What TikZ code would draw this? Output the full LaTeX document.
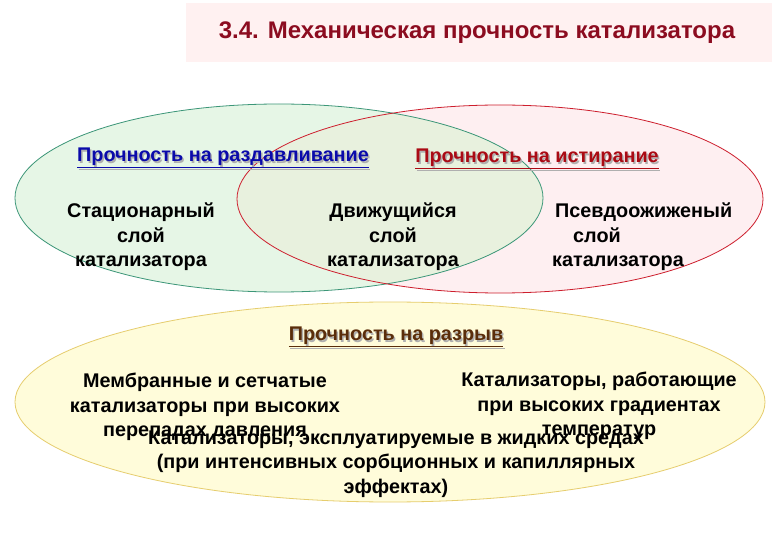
\documentclass[tikz,border=0pt]{standalone}
\usepackage{fontspec}
\setmainfont{Liberation Sans}
\definecolor{titlered}{RGB}{140,12,32}
\definecolor{titlebg}{RGB}{255,241,241}
\definecolor{greenfill}{RGB}{230,246,230}
\definecolor{pinkfill}{RGB}{254,239,241}
\definecolor{overlapfill}{RGB}{232,241,222}
\definecolor{greenline}{RGB}{60,150,120}
\definecolor{redline}{RGB}{205,30,45}
\definecolor{yellowfill}{RGB}{255,252,218}
\definecolor{yellowline}{RGB}{230,205,110}
\definecolor{headblue}{RGB}{10,10,170}
\definecolor{headred}{RGB}{170,10,20}
\definecolor{headbrown}{RGB}{90,45,10}
\definecolor{shadowgray}{RGB}{175,175,175}
\begin{document}
\begin{tikzpicture}[x=1pt,y=-1pt,
  txt/.style={font=\bfseries\fontsize{19.8}{24.5}\selectfont, align=center, inner sep=0pt, text=black},
  head/.style={font=\bfseries\fontsize{19.8}{24}\selectfont, inner sep=0pt},
  shadowtxt/.style={head, text=shadowgray}]
\useasboundingbox (0,0) rectangle (780,540);
\fill[white] (0,0) rectangle (780,540);
% title
\fill[titlebg] (186,3) rectangle (772,62);
\node[font=\bfseries\fontsize{24}{28}\selectfont, text=titlered, inner sep=0pt] (title) at (477,33) {3.4. Механическая прочность катализатора};
% ellipses
\fill[pinkfill] (500,199) ellipse [x radius=263, y radius=94];
\fill[greenfill] (279,198) ellipse [x radius=264, y radius=94];
\begin{scope}
  \clip (279,198) ellipse [x radius=264, y radius=94];
  \fill[overlapfill] (500,199) ellipse [x radius=263, y radius=94];
\end{scope}
\draw[greenline, line width=0.8pt] (279,198) ellipse [x radius=264, y radius=94];
\draw[redline, line width=0.8pt] (500,199) ellipse [x radius=263, y radius=94];
\fill[yellowfill] (390,402) ellipse [x radius=375, y radius=100];
\draw[yellowline, line width=0.8pt] (390,402) ellipse [x radius=375, y radius=100];
% headings
\node[shadowtxt] (h1s) at (224.5,159.5) {\underline{Прочность на раздавливание}};
\node[head, text=headblue] (h1) at (223,158) {\underline{Прочность на раздавливание}};
\node[shadowtxt] (h2s) at (538.5,160.5) {\underline{Прочность на истирание}};
\node[head, text=headred] (h2) at (537,159) {\underline{Прочность на истирание}};
\node[shadowtxt] (h3s) at (397.5,338.5) {\underline{Прочность на разрыв}};
\node[head, text=headbrown] (h3) at (396,337) {\underline{Прочность на разрыв}};
% top texts
\node[txt] (stat) at (141,237) {Стационарный\\слой\\катализатора};
\node[txt] (move) at (393,237) {Движущийся\\слой\\катализатора};
\node[txt, align=left, anchor=west] (pseudo) at (552,237) {\hspace*{3pt}Псевдоожиженый\\\hspace*{21pt}слой\\катализатора};
% bottom texts
\node[txt] (memb) at (205,407) {Мембранные и сетчатые\\катализаторы при высоких\\перепадах давления};
\node[txt] (grad) at (599,406) {Катализаторы, работающие\\при высоких градиентах\\температур};
\node[txt] (liq) at (396,464) {Катализаторы, эксплуатируемые в жидких средах\\(при интенсивных сорбционных и капиллярных\\эффектах)};
\end{tikzpicture}
\end{document}
